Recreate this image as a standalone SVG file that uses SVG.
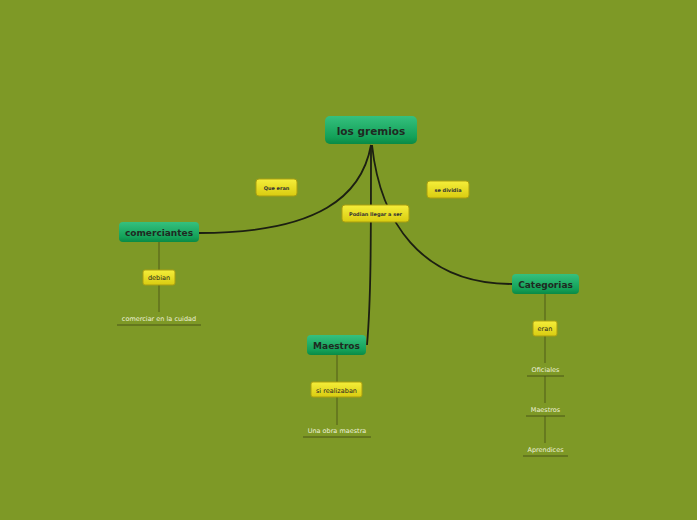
<svg xmlns="http://www.w3.org/2000/svg" width="697" height="520" viewBox="0 0 697 520">
<defs>
<linearGradient id="g" x1="0" y1="0" x2="0" y2="1">
<stop offset="0" stop-color="#35c07e"/><stop offset="0.75" stop-color="#13a159"/><stop offset="1" stop-color="#0a8a45"/>
</linearGradient>
<linearGradient id="y" x1="0" y1="0" x2="0" y2="1">
<stop offset="0" stop-color="#f5ee3a"/><stop offset="1" stop-color="#d9cc10"/>
</linearGradient>
<style>
.m{fill:url(#g)}
.mt{font-family:"DejaVu Sans",sans-serif;font-weight:bold;fill:#1f2a22;text-anchor:middle}
.yb{fill:url(#y);stroke:#a99f10;stroke-width:1}
.yt{font-family:"DejaVu Sans",sans-serif;font-size:5px;font-weight:bold;fill:#333;text-anchor:middle}
.st{font-family:"DejaVu Sans",sans-serif;font-size:6.5px;fill:#222;text-anchor:middle}
.lt{font-family:"DejaVu Sans",sans-serif;font-size:6.5px;fill:#eef2dc;text-anchor:middle}
.c{fill:none;stroke:#1c1f12;stroke-width:1.8}
.s{fill:none;stroke:#5b6a1c;stroke-width:1.3}
.u{stroke:#4a5616;stroke-width:1}
</style>
</defs>
<rect width="697" height="520" fill="#7e9926"/>
<g id="connectors">
<path class="c" d="M371,145 C362,195 320,233 199,233"/>
<path class="c" d="M371,145 C371,240 371,300 367,345"/>
<path class="c" d="M372,145 C380,220 420,284 512,284"/>
<path class="s" d="M159,242 V312"/>
<path class="s" d="M337,355 V425"/>
<path class="s" d="M545,294 V363 M545,376 V403 M545,416 V443"/>
</g>
<g id="main"><rect class="m" x="325" y="116" width="92" height="28" rx="5"/><text class="mt" x="371" y="135" font-size="10.5">los gremios</text></g>
<g id="que-eran"><rect class="yb" x="256" y="179" width="41" height="17" rx="3"/><text class="yt" x="276.5" y="189.5">Que eran</text></g>
<g id="se-dividia"><rect class="yb" x="427" y="181" width="42" height="17" rx="3"/><text class="yt" x="448" y="191.5">se dividia</text></g>
<g id="podian"><rect class="yb" x="342" y="205" width="67" height="17" rx="3"/><text class="yt" x="375.5" y="215.5">Podian llegar a ser</text></g>
<g id="comerciantes"><rect class="m" x="119" y="222" width="80" height="20" rx="4"/><text class="mt" x="159" y="236" font-size="9">comerciantes</text></g>
<g id="maestros"><rect class="m" x="307" y="335" width="59" height="20" rx="4"/><text class="mt" x="336.5" y="349" font-size="9">Maestros</text></g>
<g id="categorias"><rect class="m" x="512" y="274" width="67" height="20" rx="4"/><text class="mt" x="545.5" y="288" font-size="9">Categorias</text></g>
<g id="debian"><rect class="yb" x="143" y="270" width="32" height="15" rx="2"/><text class="st" x="159" y="280">debian</text></g>
<g id="comerciar"><text class="lt" x="159" y="321">comerciar en la cuidad</text><line class="u" x1="117" y1="325" x2="201" y2="325"/></g>
<g id="si-realizaban"><rect class="yb" x="311" y="382" width="51" height="15" rx="2"/><text class="st" x="336.5" y="392.5">si realizaban</text></g>
<g id="obra"><text class="lt" x="337" y="433">Una obra maestra</text><line class="u" x1="303" y1="437" x2="371" y2="437"/></g>
<g id="eran"><rect class="yb" x="533" y="321" width="24" height="15" rx="2"/><text class="st" x="545" y="331">eran</text></g>
<g id="oficiales"><text class="lt" x="545.5" y="372">Oficiales</text><line class="u" x1="527" y1="376" x2="564" y2="376"/></g>
<g id="maestros2"><text class="lt" x="545.5" y="412">Maestros</text><line class="u" x1="526" y1="416" x2="565" y2="416"/></g>
<g id="aprendices"><text class="lt" x="545.5" y="452">Aprendices</text><line class="u" x1="523" y1="456" x2="568" y2="456"/></g>
</svg>
